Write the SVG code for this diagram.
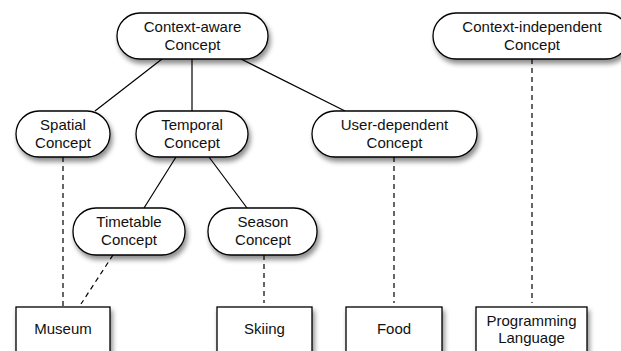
<svg xmlns="http://www.w3.org/2000/svg" width="621" height="351" viewBox="0 0 621 351">
<style>
.n{fill:#fff;stroke:#000;stroke-width:1.3;filter:url(#sh)}
.t{font-family:"Liberation Sans",Arial,sans-serif;font-size:15px;fill:#111;text-anchor:middle}
.s{stroke:#000;stroke-width:1.2;fill:none}
.d{stroke:#000;stroke-width:1.2;fill:none;stroke-dasharray:5,4}
</style>
<defs>
<filter id="sh" x="-20%" y="-30%" width="150%" height="180%">
<feDropShadow dx="2" dy="4" stdDeviation="2.5" flood-color="#000" flood-opacity="0.45"/>
</filter>
</defs>
<rect width="621" height="351" fill="#fff"/>
<g id="connectors">
<line class="s" x1="162" y1="59" x2="95" y2="111"/>
<line class="s" x1="192" y1="59" x2="192" y2="111"/>
<line class="s" x1="241" y1="59" x2="345" y2="111"/>
<line class="s" x1="176" y1="157" x2="144" y2="208"/>
<line class="s" x1="209" y1="157" x2="247" y2="208"/>
<line class="d" x1="63" y1="157" x2="63" y2="307"/>
<line class="d" x1="113" y1="255" x2="81" y2="304"/>
<line class="d" x1="264" y1="255" x2="264" y2="303"/>
<line class="d" x1="394" y1="157" x2="394" y2="303"/>
<line class="d" x1="532" y1="59" x2="532" y2="303"/>
</g>
<g id="context-aware">
<rect class="n" x="117" y="13" width="151" height="46" rx="23"/>
<text class="t" x="192.5" y="32">Context-aware</text>
<text class="t" x="192.5" y="50">Concept</text>
</g>
<g id="context-independent">
<rect class="n" x="433" y="13" width="196" height="46" rx="23"/>
<text class="t" x="532" y="32">Context-independent</text>
<text class="t" x="532" y="50">Concept</text>
</g>
<g id="spatial">
<rect class="n" x="16" y="111" width="94" height="46" rx="23"/>
<text class="t" x="63" y="130">Spatial</text>
<text class="t" x="63" y="148">Concept</text>
</g>
<g id="temporal">
<rect class="n" x="136" y="111" width="112" height="46" rx="23"/>
<text class="t" x="192" y="130">Temporal</text>
<text class="t" x="192" y="148">Concept</text>
</g>
<g id="user-dependent">
<rect class="n" x="312" y="111" width="165" height="46" rx="23"/>
<text class="t" x="394.5" y="130">User-dependent</text>
<text class="t" x="394.5" y="148">Concept</text>
</g>
<g id="timetable">
<rect class="n" x="73" y="208" width="112" height="47" rx="23"/>
<text class="t" x="129" y="227">Timetable</text>
<text class="t" x="129" y="245">Concept</text>
</g>
<g id="season">
<rect class="n" x="208" y="208" width="109" height="47" rx="23"/>
<text class="t" x="263" y="227">Season</text>
<text class="t" x="263" y="245">Concept</text>
</g>
<g id="museum">
<rect class="n" x="16" y="307" width="94" height="60"/>
<text class="t" x="63" y="334">Museum</text>
</g>
<g id="skiing">
<rect class="n" x="217" y="307" width="95" height="60"/>
<text class="t" x="264.5" y="334">Skiing</text>
</g>
<g id="food">
<rect class="n" x="346" y="307" width="96" height="60"/>
<text class="t" x="394" y="334">Food</text>
</g>
<g id="programming-language">
<rect class="n" x="476" y="307" width="111" height="60"/>
<text class="t" x="531.5" y="325.5">Programming</text>
<text class="t" x="531.5" y="343">Language</text>
</g>
</svg>
